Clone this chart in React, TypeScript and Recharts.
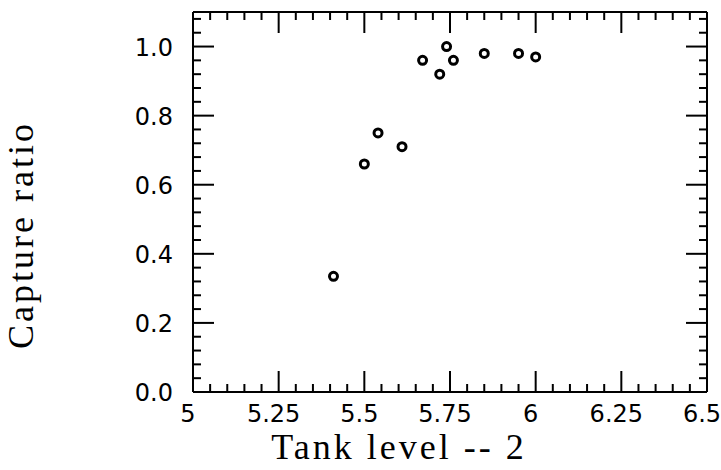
import React from 'react';
import { ScatterChart, Scatter, XAxis, YAxis, Label } from 'recharts';

// Data
const tankLevel = [5.41, 5.5, 5.54, 5.61, 5.67, 5.72, 5.74, 5.76, 5.85, 5.95, 6.0];
const captureRatio = [0.335, 0.66, 0.75, 0.71, 0.96, 0.92, 1.0, 0.96, 0.98, 0.98, 0.97];

const xMajorTicks = [5, 5.25, 5.5, 5.75, 6, 6.25, 6.5];
const xTickLabels = ['5', '5.25', '5.5', '5.75', '6', '6.25', '6.5'];
const xAllTicks = [
  5, 5.05, 5.1, 5.15, 5.2, 5.25, 5.3, 5.35, 5.4, 5.45, 5.5, 5.55, 5.6, 5.65, 5.7, 5.75,
  5.8, 5.85, 5.9, 5.95, 6, 6.05, 6.1, 6.15, 6.2, 6.25, 6.3, 6.35, 6.4, 6.45, 6.5,
];
const yMajorTicks = [0, 0.2, 0.4, 0.6, 0.8, 1.0];
const yTickLabels = ['0.0', '0.2', '0.4', '0.6', '0.8', '1.0'];
const yAllTicks = [
  0, 0.04, 0.08, 0.12, 0.16, 0.2, 0.24, 0.28, 0.32, 0.36, 0.4, 0.44, 0.48, 0.52, 0.56,
  0.6, 0.64, 0.68, 0.72, 0.76, 0.8, 0.84, 0.88, 0.92, 0.96, 1.0, 1.04, 1.08,
];
const xTitle = 'Tank level -- 2';
const yTitle = 'Capture ratio';

const xDomain: [number, number] = [5, 6.5];
const yDomain: [number, number] = [0, 1.1];

const data = tankLevel.map((x, i) => ({ x, y: captureRatio[i] }));

const MAJOR = 21;
const MINOR = 8;
const TICK_FONT = '"DejaVu Sans", sans-serif';
const TITLE_FONT = '"Liberation Serif", serif';

const majorIndex = (v: number, majors: number[]) =>
  majors.findIndex((m) => Math.abs(m - v) < 1e-6);

const BottomTick = (props: any) => {
  const { x, y, payload } = props;
  const i = majorIndex(payload.value, xMajorTicks);
  const len = i >= 0 ? MAJOR : MINOR;
  return (
    <g>
      <line x1={x} y1={y} x2={x} y2={y - len} stroke="#000" strokeWidth={2} />
      {i >= 0 && (
        <text x={x - 5} y={y + 30} textAnchor="middle" fontFamily={TICK_FONT} fontSize={24} fill="#000">
          {xTickLabels[i]}
        </text>
      )}
    </g>
  );
};

const TopTick = (props: any) => {
  const { x, y, payload } = props;
  const i = majorIndex(payload.value, xMajorTicks);
  const len = i >= 0 ? MAJOR : MINOR;
  return <line x1={x} y1={y} x2={x} y2={y + len} stroke="#000" strokeWidth={2} />;
};

const LeftTick = (props: any) => {
  const { x, y, payload } = props;
  const i = majorIndex(payload.value, yMajorTicks);
  const len = i >= 0 ? MAJOR : MINOR;
  return (
    <g>
      <line x1={x} y1={y} x2={x + len} y2={y} stroke="#000" strokeWidth={2} />
      {i >= 0 && (
        <text x={x - 20} y={y + 9} textAnchor="end" fontFamily={TICK_FONT} fontSize={24} fill="#000">
          {yTickLabels[i]}
        </text>
      )}
    </g>
  );
};

const RightTick = (props: any) => {
  const { x, y, payload } = props;
  const i = majorIndex(payload.value, yMajorTicks);
  const len = i >= 0 ? MAJOR : MINOR;
  return <line x1={x} y1={y} x2={x - len} y2={y} stroke="#000" strokeWidth={2} />;
};

const YTitle = (props: any) => {
  const vb = props.viewBox || { x: 0, y: 12, width: 193, height: 380 };
  const cx = vb.x + 33;
  const cy = vb.y + vb.height / 2 + 33;
  return (
    <text
      x={cx}
      y={cy}
      transform={`rotate(-90 ${cx} ${cy})`}
      textAnchor="middle"
      fontFamily={TITLE_FONT}
      fontSize={36}
      letterSpacing={3}
      fill="#000"
    >
      {yTitle}
    </text>
  );
};

const XTitle = (props: any) => {
  const vb = props.viewBox || { x: 193, y: 392, width: 514, height: 78 };
  const cx = vb.x + vb.width / 2 - 51;
  const cy = vb.y + 67;
  return (
    <text
      x={cx}
      y={cy}
      textAnchor="middle"
      fontFamily={TITLE_FONT}
      fontSize={36}
      letterSpacing={3}
      fill="#000"
    >
      {xTitle}
    </text>
  );
};

const OpenCircle = (props: any) => (
  <circle cx={props.cx} cy={props.cy} r={4} fill="none" stroke="#000" strokeWidth={3} />
);

const NoShape = () => <g />;

const axisLine = { stroke: '#000', strokeWidth: 2 };

export default function App() {
  return (
    <div style={{ position: 'absolute', left: 0, top: 0, background: '#fff' }}>
      <ScatterChart width={721} height={470} margin={{ top: 11, right: 13, bottom: 0, left: 0 }}>
        <XAxis
          xAxisId="b"
          type="number"
          dataKey="x"
          orientation="bottom"
          domain={xDomain}
          ticks={xAllTicks}
          interval={0}
          tickSize={0}
          tickMargin={0}
          height={78}
          axisLine={axisLine}
          tickLine={false}
          tick={BottomTick}
          allowDataOverflow
        >
          <Label content={XTitle} />
        </XAxis>
        <XAxis
          xAxisId="t"
          type="number"
          dataKey="x"
          orientation="top"
          domain={xDomain}
          ticks={xAllTicks}
          interval={0}
          tickSize={0}
          tickMargin={0}
          height={1}
          axisLine={axisLine}
          tickLine={false}
          tick={TopTick}
          allowDataOverflow
        />
        <YAxis
          yAxisId="l"
          type="number"
          dataKey="y"
          orientation="left"
          domain={yDomain}
          ticks={yAllTicks}
          interval={0}
          tickSize={0}
          tickMargin={0}
          width={193}
          axisLine={axisLine}
          tickLine={false}
          tick={LeftTick}
          allowDataOverflow
        >
          <Label content={YTitle} />
        </YAxis>
        <YAxis
          yAxisId="r"
          type="number"
          dataKey="y"
          orientation="right"
          domain={yDomain}
          ticks={yAllTicks}
          interval={0}
          tickSize={0}
          tickMargin={0}
          width={1}
          axisLine={axisLine}
          tickLine={false}
          tick={RightTick}
          allowDataOverflow
        />
        <Scatter
          data={data}
          xAxisId="t"
          yAxisId="r"
          shape={NoShape}
          isAnimationActive={false}
        />
        <Scatter
          data={data}
          xAxisId="b"
          yAxisId="l"
          shape={OpenCircle}
          isAnimationActive={false}
        />
      </ScatterChart>
    </div>
  );
}
